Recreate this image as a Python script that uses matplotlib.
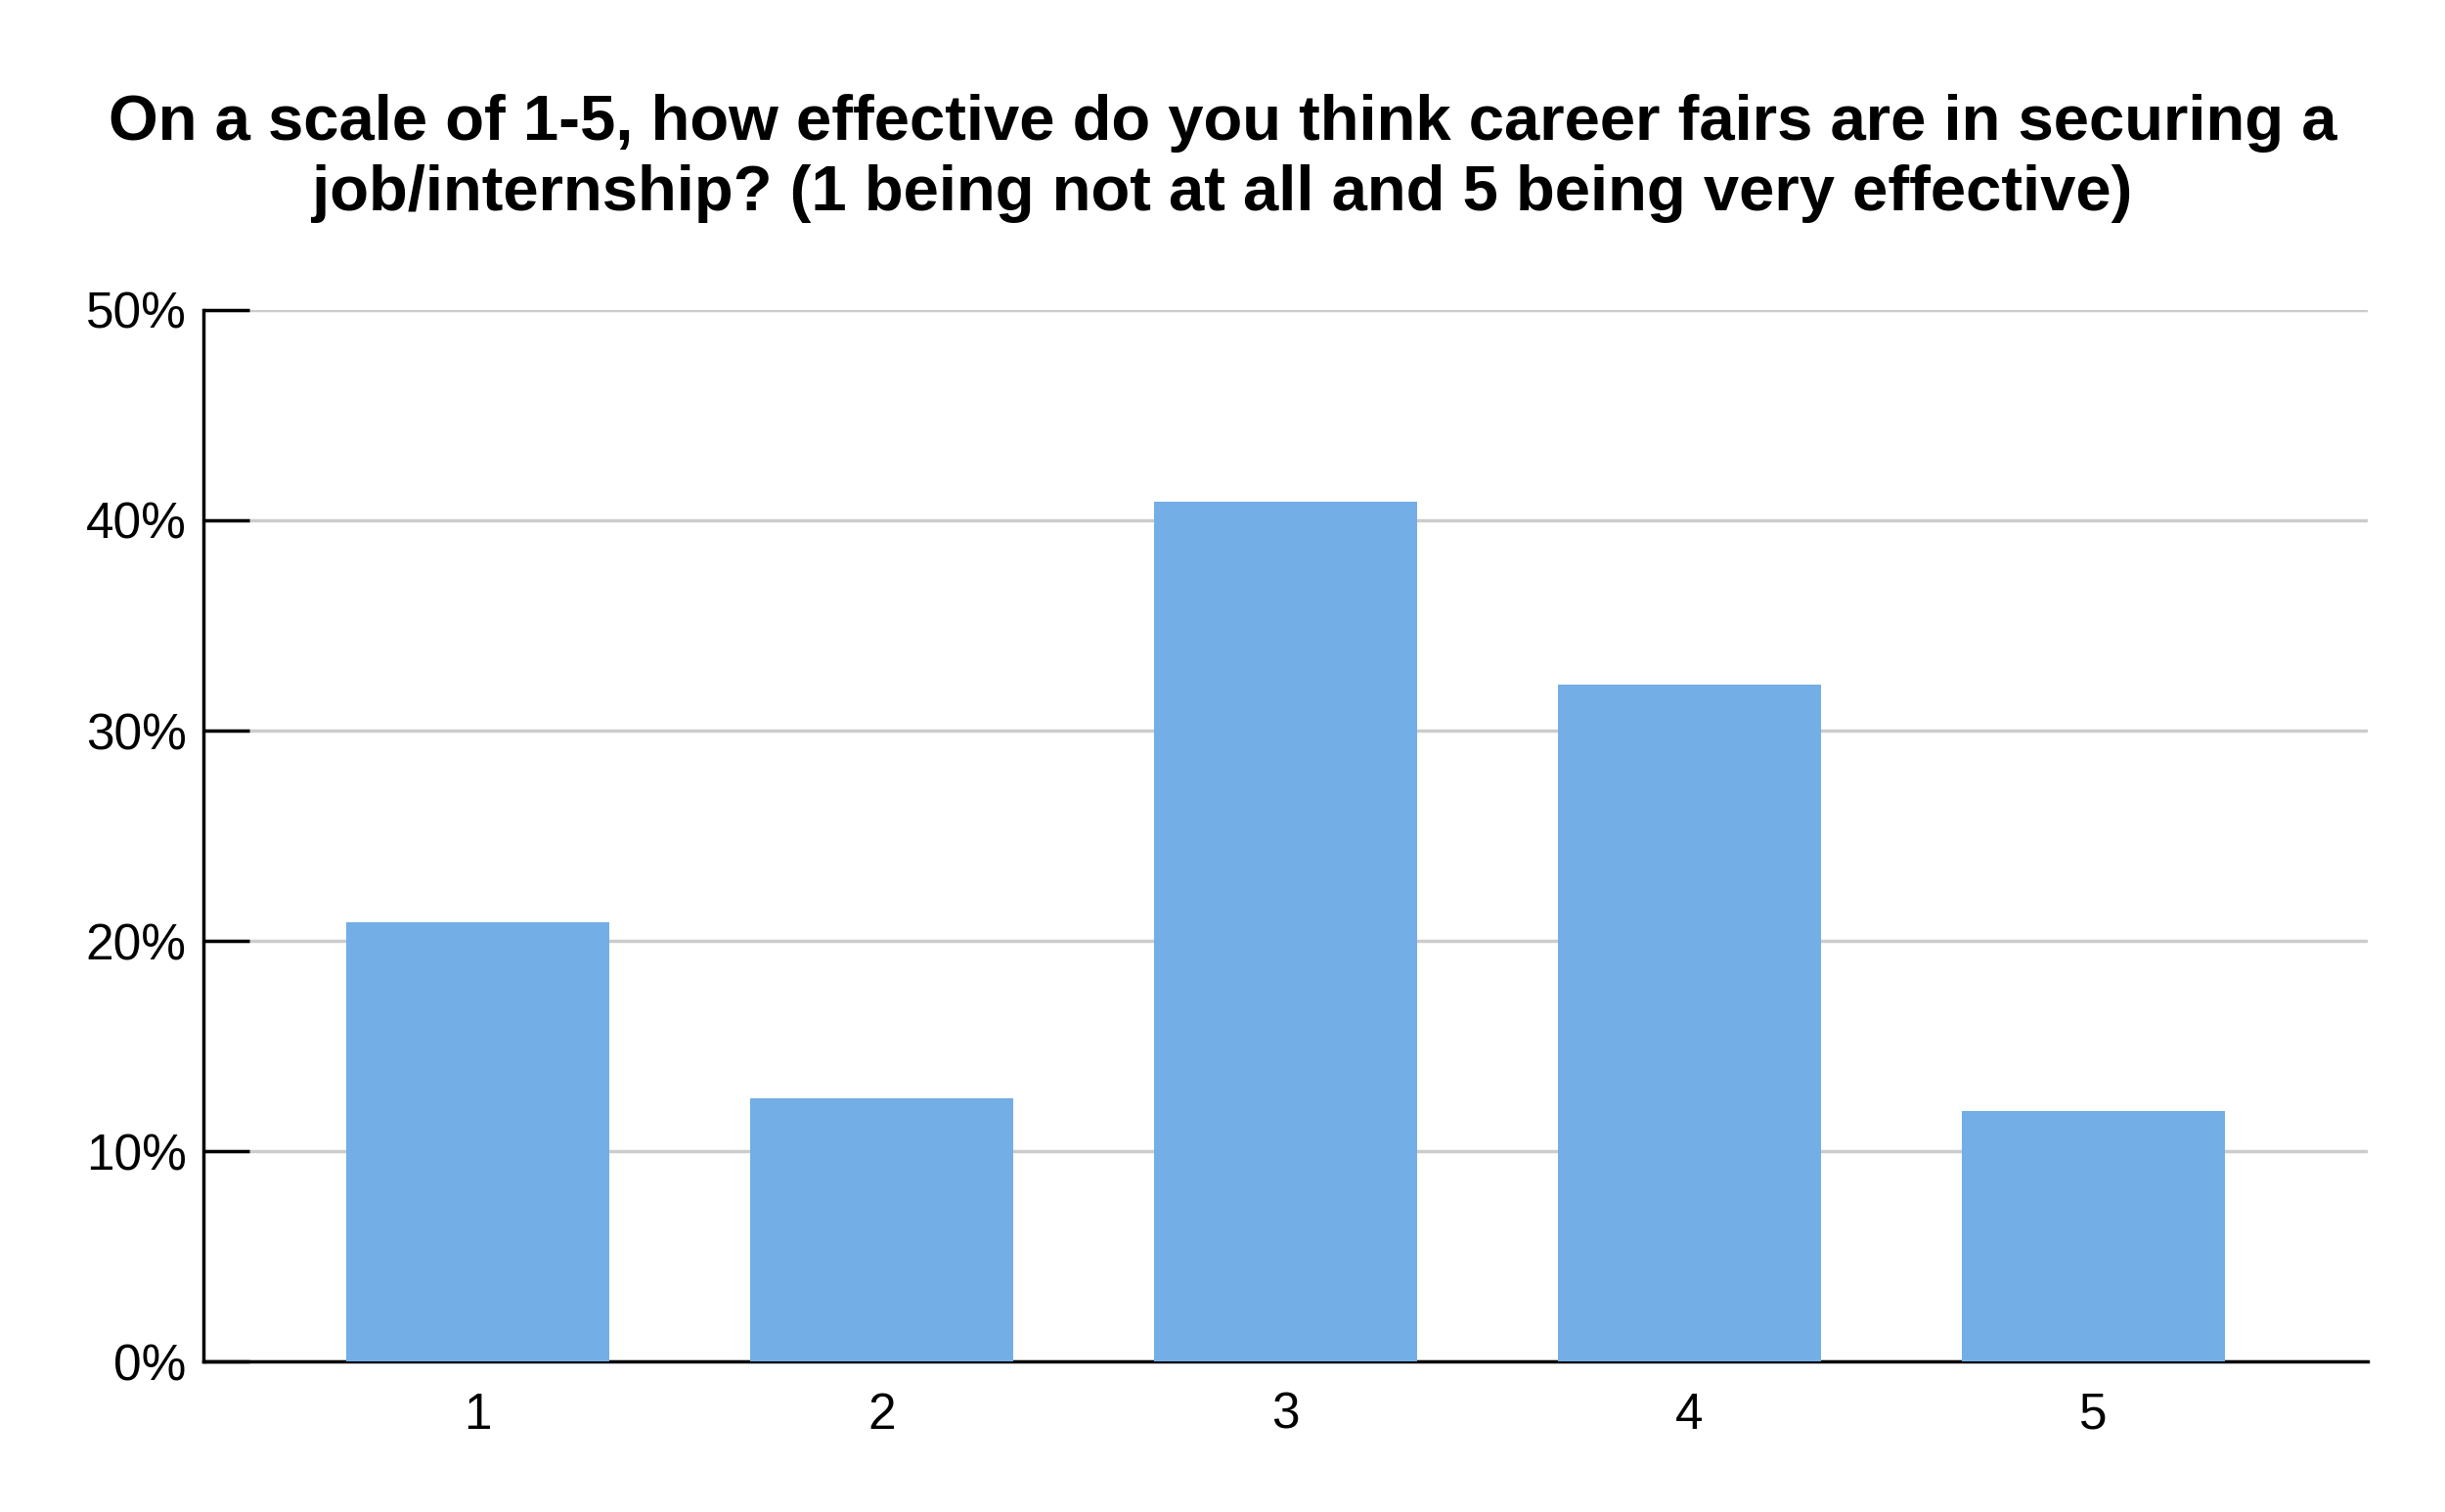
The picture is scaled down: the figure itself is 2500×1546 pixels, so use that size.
import matplotlib.pyplot as plt
from matplotlib.ticker import PercentFormatter

plt.rcParams['font.family'] = ['Liberation Sans', 'DejaVu Sans']

categorias = ["1", "2", "3", "4", "5"]
porcentajes = [20.9, 12.5, 40.9, 32.2, 11.9]
titulo = ("On a scale of 1-5, how effective do you think career fairs are in securing a\n"
          "job/internship? (1 being not at all and 5 being very effective)")

fig = plt.figure(figsize=(25, 15.46), dpi=100)
ax = fig.add_axes([0.083, 0.0995, 0.8855, 0.6955])

posiciones = range(1, len(categorias) + 1)
ax.bar(posiciones, porcentajes, width=0.65, color="#73aee6", zorder=3)

ax.set_xlim(0.32, 5.68)
ax.set_ylim(0, 50)
ax.set_xticks(list(posiciones))
ax.set_xticklabels(categorias)
ax.set_yticks(range(0, 51, 10))
ax.yaxis.set_major_formatter(PercentFormatter(decimals=0))
ax.grid(axis="y", color="#cccccc", linewidth=2.5, zorder=0)
for s in ["top", "right"]:
    ax.spines[s].set_visible(False)
ax.spines["left"].set_linewidth(2.5)
ax.spines["bottom"].set_linewidth(2.5)
ax.tick_params(axis="y", direction="in", length=34, width=2.5, labelsize=37, pad=12)
ax.tick_params(axis="x", length=0, labelsize=37, pad=22)

fig.text(0.5, 0.895, titulo, ha="center", va="center", fontsize=47,
         fontweight="bold", linespacing=1.25)

fig.savefig("out.png", dpi=100)
